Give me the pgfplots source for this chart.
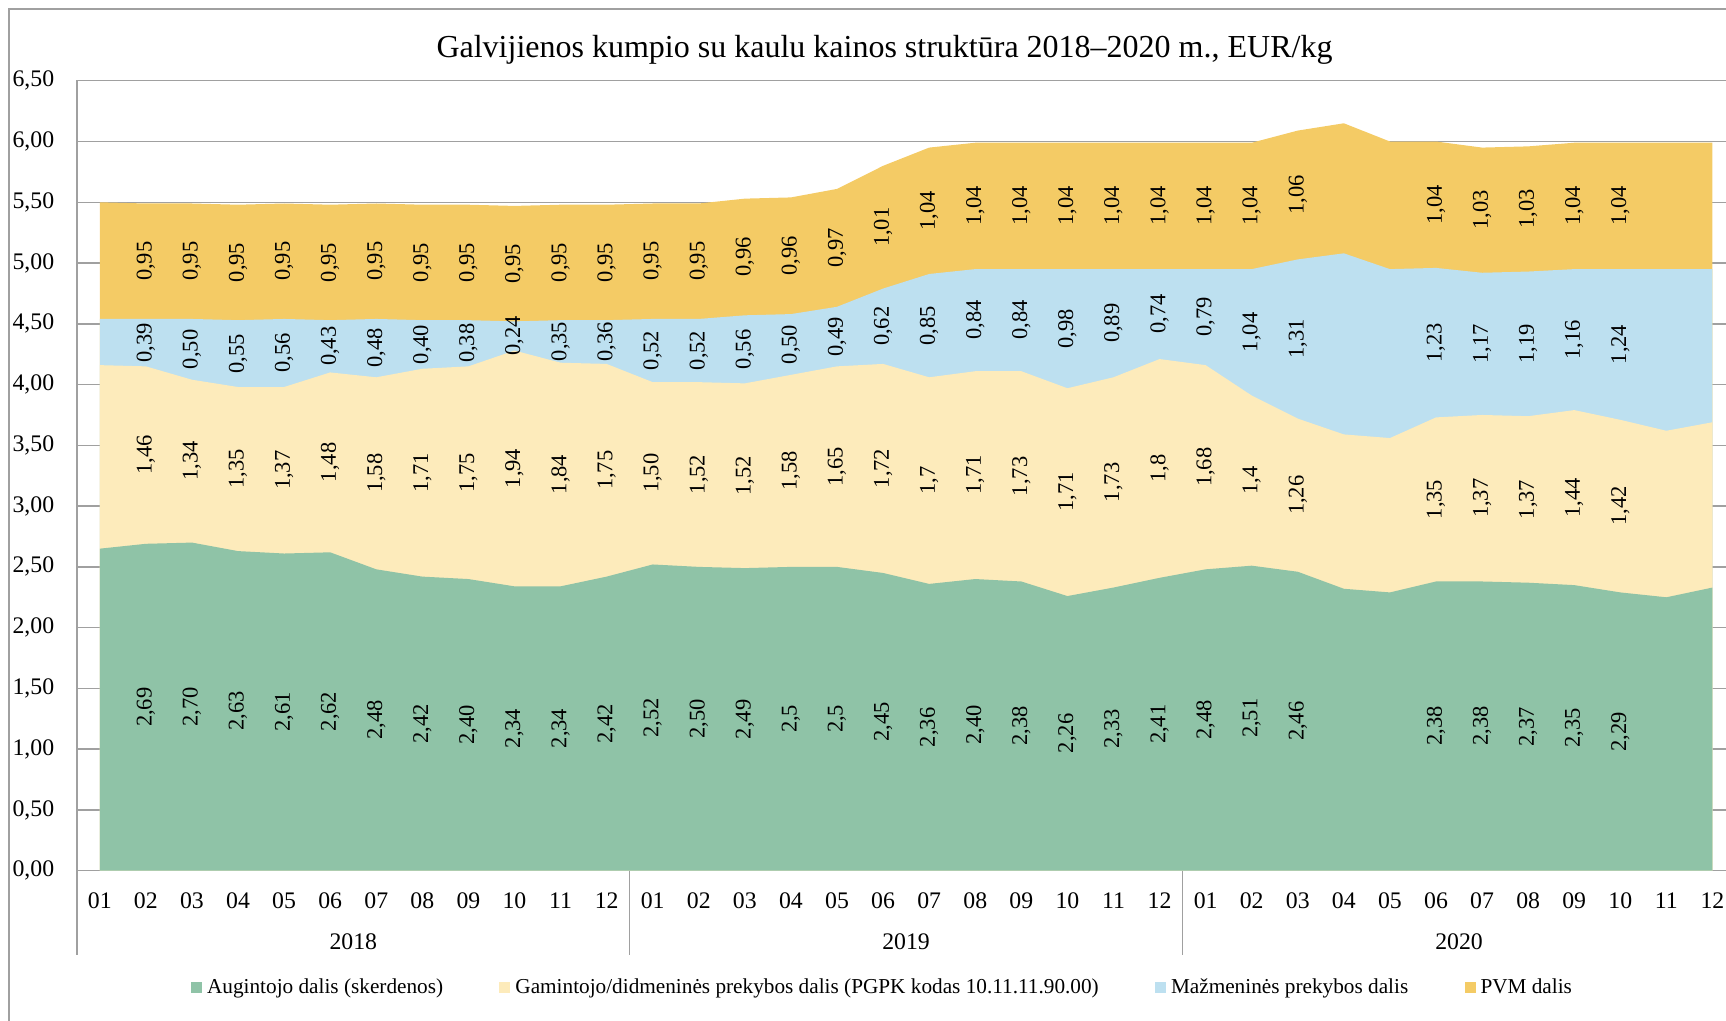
\documentclass[border=0pt]{standalone}
\usepackage{fontspec}
\setmainfont{Liberation Serif}
\usepackage{pgfplots}
\usepackage{pgfplotstable}
\pgfplotsset{compat=1.18}

\definecolor{cG}{HTML}{8FC3A7}
\definecolor{cY}{HTML}{FDEBBB}
\definecolor{cB}{HTML}{BDE0F0}
\definecolor{cO}{HTML}{F4CB65}
\definecolor{cAx}{HTML}{A0A0A0}

% x: month index, g/y/b/o: shares (EUR/kg), *l: printed labels
\pgfplotstableread{
x  g    y    b    o    gl    yl    bl    ol
1  2.65 1.51 0.38 0.96 {}    {}    {}    {}
2  2.69 1.46 0.39 0.95 2,69  1,46  0,39  0,95
3  2.70 1.34 0.50 0.95 2,70  1,34  0,50  0,95
4  2.63 1.35 0.55 0.95 2,63  1,35  0,55  0,95
5  2.61 1.37 0.56 0.95 2,61  1,37  0,56  0,95
6  2.62 1.48 0.43 0.95 2,62  1,48  0,43  0,95
7  2.48 1.58 0.48 0.95 2,48  1,58  0,48  0,95
8  2.42 1.71 0.40 0.95 2,42  1,71  0,40  0,95
9  2.40 1.75 0.38 0.95 2,40  1,75  0,38  0,95
10 2.34 1.94 0.24 0.95 2,34  1,94  0,24  0,95
11 2.34 1.84 0.35 0.95 2,34  1,84  0,35  0,95
12 2.42 1.75 0.36 0.95 2,42  1,75  0,36  0,95
13 2.52 1.50 0.52 0.95 2,52  1,50  0,52  0,95
14 2.50 1.52 0.52 0.95 2,50  1,52  0,52  0,95
15 2.49 1.52 0.56 0.96 2,49  1,52  0,56  0,96
16 2.50 1.58 0.50 0.96 2,5   1,58  0,50  0,96
17 2.50 1.65 0.49 0.97 2,5   1,65  0,49  0,97
18 2.45 1.72 0.62 1.01 2,45  1,72  0,62  1,01
19 2.36 1.70 0.85 1.04 2,36  1,7   0,85  1,04
20 2.40 1.71 0.84 1.04 2,40  1,71  0,84  1,04
21 2.38 1.73 0.84 1.04 2,38  1,73  0,84  1,04
22 2.26 1.71 0.98 1.04 2,26  1,71  0,98  1,04
23 2.33 1.73 0.89 1.04 2,33  1,73  0,89  1,04
24 2.41 1.80 0.74 1.04 2,41  1,8   0,74  1,04
25 2.48 1.68 0.79 1.04 2,48  1,68  0,79  1,04
26 2.51 1.40 1.04 1.04 2,51  1,4   1,04  1,04
27 2.46 1.26 1.31 1.06 2,46  1,26  1,31  1,06
28 2.32 1.27 1.49 1.07 {}    {}    {}    {}
29 2.29 1.27 1.39 1.05 {}    {}    {}    {}
30 2.38 1.35 1.23 1.04 2,38  1,35  1,23  1,04
31 2.38 1.37 1.17 1.03 2,38  1,37  1,17  1,03
32 2.37 1.37 1.19 1.03 2,37  1,37  1,19  1,03
33 2.35 1.44 1.16 1.04 2,35  1,44  1,16  1,04
34 2.29 1.42 1.24 1.04 2,29  1,42  1,24  1,04
35 2.25 1.37 1.33 1.04 {}    {}    {}    {}
36 2.33 1.36 1.26 1.04 {}    {}    {}    {}
}\data

\pgfplotsset{
  lbl/.style={draw=none, mark=none, forget plot,
    nodes near coords, point meta=explicit symbolic,
    nodes near coords align={center},
    nodes near coords style={rotate=90, anchor=center, inner sep=0pt,
      font=\fontsize{9}{10}\selectfont}},
}

\begin{document}
\begin{tikzpicture}
\begin{axis}[
    at={(30.7pt,60.1pt)}, anchor=south west,
    scale only axis, width=663.5pt, height=316pt,
    xmin=0.5, xmax=36.5, ymin=0, ymax=6.5,
    clip=false,
    axis line style={draw=cAx, line width=0.6pt},
    major tick length=0pt,
    ymajorgrids, grid style={draw=cAx, line width=0.6pt},
    ytick={0,0.5,...,6.5},
    yticklabel style={/pgf/number format/fixed, /pgf/number format/fixed zerofill,
      /pgf/number format/precision=2, /pgf/number format/use comma,
      /pgf/number format/assume math mode=true,
      font=\fontsize{9.5}{10}\selectfont, xshift=-5.5pt},
    xtick={1,...,36},
    xticklabels={01,02,03,04,05,06,07,08,09,10,11,12,
                 01,02,03,04,05,06,07,08,09,10,11,12,
                 01,02,03,04,05,06,07,08,09,10,11,12},
    xticklabel style={font=\fontsize{9.5}{10}\selectfont, yshift=-5.4pt},
    legend columns=4,
    legend style={draw=none, fill=none, at={(0.4867,-0.1482)}, anchor=center,
      font=\fontsize{8.5}{9}\selectfont,
      /tikz/every even column/.append style={column sep=20.5pt}},
    legend image code/.code={\fill[#1] (0pt,-2.2pt) rectangle (4.4pt,2.2pt);},
  ]
  \addlegendimage{fill=cG, draw=none}
  \addlegendimage{fill=cY, draw=none}
  \addlegendimage{fill=cB, draw=none}
  \addlegendimage{fill=cO, draw=none}

  \addplot[fill=cO, draw=none, forget plot] table[x=x,
    y expr=\thisrow{g}+\thisrow{y}+\thisrow{b}+\thisrow{o}] {\data} \closedcycle;
  \addplot[fill=cB, draw=none, forget plot] table[x=x,
    y expr=\thisrow{g}+\thisrow{y}+\thisrow{b}] {\data} \closedcycle;
  \addplot[fill=cY, draw=none, forget plot] table[x=x,
    y expr=\thisrow{g}+\thisrow{y}] {\data} \closedcycle;
  \addplot[fill=cG, draw=none, forget plot] table[x=x, y=g] {\data} \closedcycle;

  \addplot[lbl] table[x=x, y expr=\thisrow{g}/2, meta=gl] {\data};
  \addplot[lbl] table[x=x, y expr=\thisrow{g}+\thisrow{y}/2, meta=yl] {\data};
  \addplot[lbl] table[x=x, y expr=\thisrow{g}+\thisrow{y}+\thisrow{b}/2, meta=bl] {\data};
  \addplot[lbl] table[x=x, y expr=\thisrow{g}+\thisrow{y}+\thisrow{b}+\thisrow{o}/2, meta=ol] {\data};

  \legend{Augintojo dalis (skerdenos),
    Gamintojo/didmeninės prekybos dalis (PGPK kodas 10.11.11.90.00),
    Mažmeninės prekybos dalis, PVM dalis}

  % year separators
  \draw[cAx, line width=0.6pt] (axis cs:0.5,0) -- (axis cs:0.5,-0.692);
  \draw[cAx, line width=0.6pt] (axis cs:12.5,0) -- (axis cs:12.5,-0.692);
  \draw[cAx, line width=0.6pt] (axis cs:24.5,0) -- (axis cs:24.5,-0.692);
  \draw[cAx, line width=0.6pt] (axis cs:36.5,0) -- (axis cs:36.5,-0.692);
\end{axis}
% year labels
\node[font=\fontsize{9.5}{10}\selectfont] at (141.3pt,31.7pt) {2018};
\node[font=\fontsize{9.5}{10}\selectfont] at (362.4pt,31.7pt) {2019};
\node[font=\fontsize{9.5}{10}\selectfont] at (583.6pt,31.7pt) {2020};
\node[font=\fontsize{12.8}{14}\selectfont] at (353.8pt,388.6pt)
  {Galvijienos kumpio su kaulu kainos struktūra 2018–2020 m., EUR/kg};
\draw[cAx, line width=0.7pt] (3.6pt,0pt) -- (3.6pt,404.8pt) -- (700pt,404.8pt);
\pgfresetboundingbox
\useasboundingbox (0pt,0pt) rectangle (690.4pt,408.4pt);
\end{tikzpicture}
\end{document}
